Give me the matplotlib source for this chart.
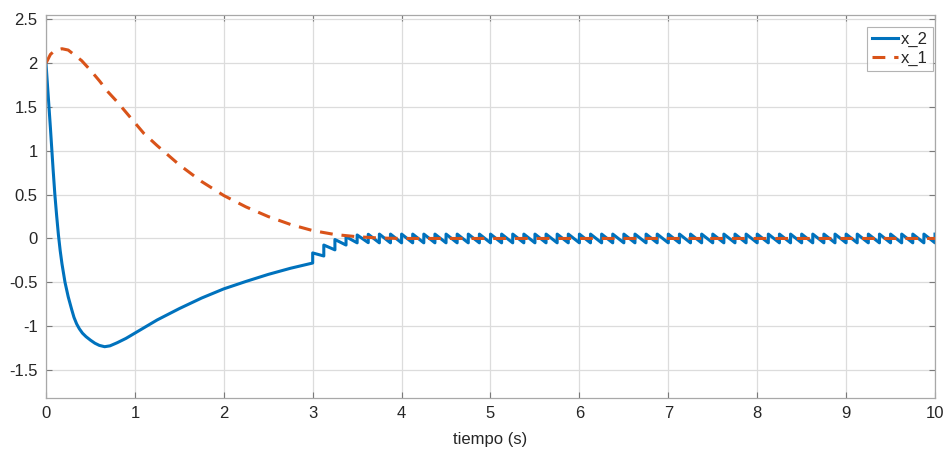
import matplotlib
matplotlib.use("Agg")
import matplotlib.pyplot as plt
import numpy as np

plt.rcParams['font.family'] = ['Liberation Sans', 'DejaVu Sans']
plt.rcParams['axes.unicode_minus'] = False

# x_1 (dashed, orange)
x1_t = [0.0, 0.05, 0.1, 0.18, 0.25, 0.3, 0.4, 0.5, 0.6, 0.7, 0.8, 0.9, 1.0, 1.1,
        1.25, 1.5, 1.75, 2.0, 2.25, 2.5, 2.75, 3.0, 3.25, 3.5, 3.75, 4.0, 10.0]
x1_v = [2.0, 2.10, 2.145, 2.165, 2.15, 2.11, 2.03, 1.92, 1.80, 1.67, 1.56, 1.44, 1.32, 1.20,
        1.06, 0.84, 0.65, 0.49, 0.36, 0.25, 0.16, 0.09, 0.045, 0.02, 0.005, 0.0, 0.0]

# x_2 continuous part (solid, blue), 0..3 s
x2_t = [0.0, 0.02, 0.034, 0.05, 0.064, 0.08, 0.10, 0.12, 0.14, 0.16, 0.18, 0.214, 0.25,
        0.289, 0.315, 0.345, 0.375, 0.41, 0.45, 0.5, 0.55, 0.6, 0.66, 0.72, 0.8, 0.9,
        1.0, 1.1, 1.25, 1.5, 1.75, 2.0, 2.25, 2.5, 2.75, 3.0]
x2_v = [2.0, 1.71, 1.5, 1.26, 1.04, 0.79, 0.5, 0.26, 0.04, -0.14, -0.29, -0.5, -0.665,
        -0.81, -0.90, -0.975, -1.03, -1.08, -1.12, -1.16, -1.195, -1.22, -1.235, -1.225,
        -1.19, -1.14, -1.08, -1.02, -0.93, -0.8, -0.68, -0.575, -0.49, -0.41, -0.34, -0.28]

# x_2 sampled part: jump instants, value after each jump, value just before next jump
saw_t = list(np.arange(3.0, 10.0001, 0.125))
saw_top = [-0.165, -0.075, -0.012, 0.02, 0.04, 0.048, 0.05, 0.05, 0.05, 0.05,
           0.05, 0.05, 0.05, 0.05, 0.05, 0.05, 0.05, 0.05, 0.05, 0.05,
           0.05, 0.05, 0.05, 0.05, 0.05, 0.05, 0.05, 0.05, 0.05, 0.05,
           0.05, 0.05, 0.05, 0.05, 0.05, 0.05, 0.05, 0.05, 0.05, 0.05,
           0.05, 0.05, 0.05, 0.05, 0.05, 0.05, 0.05, 0.05, 0.05, 0.05,
           0.05, 0.05, 0.05, 0.05, 0.05, 0.05, 0.05]
saw_bottom = [-0.20, -0.13, -0.075, -0.05, -0.048, -0.05, -0.05, -0.05, -0.05, -0.05,
              -0.05, -0.05, -0.05, -0.05, -0.05, -0.05, -0.05, -0.05, -0.05, -0.05,
              -0.05, -0.05, -0.05, -0.05, -0.05, -0.05, -0.05, -0.05, -0.05, -0.05,
              -0.05, -0.05, -0.05, -0.05, -0.05, -0.05, -0.05, -0.05, -0.05, -0.05,
              -0.05, -0.05, -0.05, -0.05, -0.05, -0.05, -0.05, -0.05, -0.05, -0.05,
              -0.05, -0.05, -0.05, -0.05, -0.05, -0.05]

xticks = [0, 1, 2, 3, 4, 5, 6, 7, 8, 9, 10]
yticks = [-1.5, -1, -0.5, 0, 0.5, 1, 1.5, 2, 2.5]
ytick_labels = ['-1.5', '-1', '-0.5', '0', '0.5', '1', '1.5', '2', '2.5']

# assemble x_2 path
bt = list(x2_t)
bv = list(x2_v)
for k in range(len(saw_t)):
    bt.append(saw_t[k]); bv.append(saw_top[k])
    if k < len(saw_bottom):
        bt.append(saw_t[k + 1]); bv.append(saw_bottom[k])

fig = plt.figure(figsize=(9.48, 4.5), dpi=100)
ax = fig.add_axes([0.0485, 0.1156, 0.9378, 0.8511])

blue = '#0072BD'
orange = '#D95319'
ax.plot(bt, bv, color=blue, lw=2.2, label='x_2', solid_joinstyle='round')
ax.plot(x1_t, x1_v, color=orange, lw=2.2, ls=(0, (4.2, 2.9)), label='x_1')

ax.set_xlim(0, 10)
ax.set_ylim(-1.82, 2.55)
ax.set_xticks(xticks)
ax.set_xticklabels([str(v) for v in xticks])
ax.set_yticks(yticks)
ax.set_yticklabels(ytick_labels)
ax.grid(True, color='#dcdcdc', lw=0.9)
ax.set_axisbelow(True)
for s in ax.spines.values():
    s.set_color('#a8a8a8')
    s.set_linewidth(0.9)
ax.tick_params(direction='in', length=4, width=0.8, color='#7a7a7a',
               labelsize=12, labelcolor='#262626', top=True, right=True, pad=6)
ax.set_xlabel('tiempo (s)', fontsize=12, color='#262626', labelpad=8)

leg = ax.legend(loc='upper right', bbox_to_anchor=(0.9978, 0.968), fontsize=12,
                frameon=True, fancybox=False,
                handlelength=1.55, handletextpad=0.2, borderpad=0.3,
                borderaxespad=0.0, labelspacing=0.2)
leg.get_frame().set_edgecolor('#a0a0a0')
leg.get_frame().set_linewidth(0.8)
for t in leg.get_texts():
    t.set_color('#262626')

fig.savefig('out.png', dpi=100)
